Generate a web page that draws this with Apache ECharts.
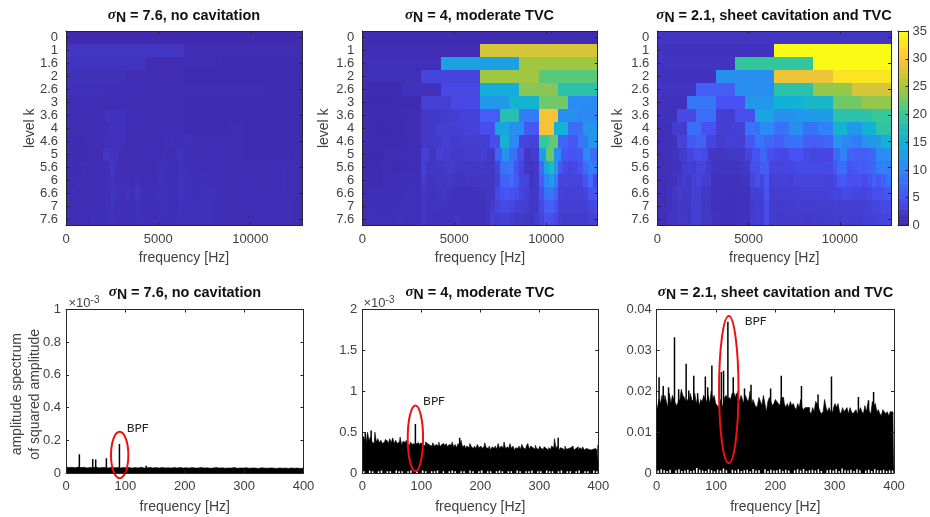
<!DOCTYPE html>
<html><head><meta charset="utf-8">
<style>html,body{margin:0;padding:0;background:#fff}#c{width:930px;height:517px}</style>
<script src="https://cdn.jsdelivr.net/npm/echarts@6/dist/echarts.min.js"></script>
</head><body><div id="c"></div>
<script>
const levelLabels = ['0','1','1.6','2','2.6','3','3.6','4','4.6','5','5.6','6','6.6','7','7.6'];
const freqMax = 12800;
const parula = ['#3E26A8','#4852F4','#2D87F7','#12B1D6','#37C897','#ABC739','#FEC338','#F9FB14'];

const kurt1 = [
[.5],
[1.8,.8],
[1.6,.8,.6],
[1.2,.8,.7,.7],
[1.1,.9,.8,.8,.8,.7],
[.9,.8,.8,.8,.7,.7,.7,.7],
[.8,.8,1.4,.9,.8,.8,.7,.7,.7,.7,.7,.7],
[.8,.8,.9,1.3,.8,.8,.8,.8,.7,.7,.7,.8,.7,.7,.7,.7],
[.7,.7,.8,.8,1.2,1.3,.8,.8,.8,.8,1.1,.8,1.1,.8,.8,.8,.8,.8,.7,.7,.7,.7,.7,.7],
[.7,.7,.7,.8,.8,1.9,1.5,.9,.8,.8,.8,.9,.8,1.1,.8,1.4,.9,.8,.8,.8,.9,.8,.8,.8,.7,.7,.7,.7,.7,.7,.7,.9],
[.7,.7,.8,1,.8,.8,.8,.8,1,1.8,1,.8,.8,.8,.8,.8,.8,.8,1,1.3,1,.9,1,1.3,1,.9,.9,.9,.8,.9,.9,.8,.8,.8,.8,.8,.9,.8,.8,.8,.8,.8,.8,.8,.9,.9,.8,.8],
[.7,.8,.9,.9,.8,.8,.8,.8,1,1.6,1,.9,.8,.8,1.2,.8,.8,.8,.9,1.3,1,.9,1,1.5,1.1,1,.9,1,.9,.9,1,.8,.8,.8,.8,.9,.8,.8,.9,.8,.8,.8,.8,.8,1,.9,.8,.8],
[.8,.9,.8,.8,.8,.8,.8,.9,1,1.6,1.3,1.1,1.3,.9,1.8,1,.9,.9,1,1.2,1,.9,1.1,1.5,1.1,1.1,.9,1,1,1,1,.9,.8,.8,.9,.9,.9,.8,.8,.9,.8,.8,.8,.9,1,.9,.8,.8],
[.8,.8,.9,.8,.8,.8,1,.9,1,1.3,1.1,.9,1.1,.9,1.3,.9,.9,.9,1,1.1,1,.9,1,1.3,1.1,1,1,1,1,1,.9,.9,.8,.8,.9,.8,.9,.8,.9,.9,.8,.8,.8,.9,.9,1,.8,.8],
[.8,.8,.8,.8,.8,1.1,1,.9,1,1.2,1,.9,1.1,.9,1.2,1,.9,.9,.9,1,.9,.9,1,1.2,1,1,1,1,1,1,.9,.9,.8,.8,.9,.8,.8,.8,.9,.9,.8,.8,.8,.9,.9,1,.8,.8]
];
const kurt2 = [
[.7],
[.8,27.5],
[1,13,24.5],
[1,3.5,24.5,21.5],
[.7,1.3,4,14.5,23.5,18.5],
[.6,.7,3,4,12,15.5,22.5,10.5],
[.7,.7,.8,2.2,2.6,3.2,6,18,9,29.5,11,10],
[.7,.6,.7,.8,2.2,2.8,3,3.3,4.5,13.5,11,5.5,29.5,15,7.5,11.5],
[.7,.7,.7,.7,.8,.8,2.2,2.3,3,2.4,2.6,2.6,2.6,4.5,15.5,10,3.5,3.2,20,22,7,5.5,8.5,12],
[.6,.6,.6,.8,.8,.8,.9,.9,3,1.7,3,2.5,2.3,2.3,2.5,2.5,2.8,2.2,6.5,11.5,8,4.5,1.8,2.5,13,22,11,5.5,5,5.5,10.5,7.5],
[.6,.6,.7,.7,.8,.8,.7,.7,.8,.9,.8,.9,3,1.8,1.8,2,2.2,2.5,2.5,2,2,2,2.2,2.2,2.4,2.2,2,3.5,8,8.5,8.5,5,3.5,1.8,1.5,2.2,7.5,14,17,12,5.5,4,3.5,4,5,7.5,9,8.5],
[.7,.7,.8,.7,.8,.8,.9,.8,.9,1,.9,.9,2.5,1.6,1.6,1.8,2,2.2,1.8,1.6,1.6,1.8,1.8,1.8,2,1.8,1.8,3,6.5,6.5,7.5,5.5,3.5,3.5,1.6,2,6,10,13,9,3.5,3.5,3.3,3.5,3.5,5,7.5,4],
[.7,.9,1,.9,.9,.8,1,.9,1,1,1,1,2,1.6,1.4,1.6,2,1.6,1.4,1.4,1.2,1.4,1.4,1.4,1.6,1.8,2,4,5,5.5,5,4.5,3.5,3,2,2.2,4.5,8,8.5,6.5,3.2,3,3,3,3,3.5,5,5.5],
[.8,1,.9,.9,1,.9,.9,1,1.1,1,1,1,1.8,1.5,1.5,1.6,1.6,1.5,1.4,1.4,1.4,1.5,1.5,1.4,1.2,1.5,2.5,3.5,4,4,3.8,3,3,2.8,2,2.2,4,6,6.5,5,3,2.8,2.8,3,2.8,3,3.5,4],
[.8,1.2,1.1,1,1,1.1,1,1.2,1.1,1,1,1.2,1.8,1.5,1.5,1.4,1.5,1.4,1.5,1.8,1.4,1.4,1.5,1.4,1.2,1.5,3,2.5,3,3,2.6,2.2,2.4,2,1.6,2.5,3.5,5,4.5,4,2.6,2.4,2.4,2.5,2.4,2.4,3,3.2]
];
const kurt3 = [
[1.8],
[1.5,35],
[1.6,19.5,35],
[1.5,11,29,33],
[1.6,6,11,18.5,24,27.5],
[1.3,8.5,5,12,15,16,22.5,24],
[1.2,4,7.5,2.8,4.5,13.5,11,12,12.5,18.5,18.5,20],
[1,2.5,7.5,5,2.8,3,8,10.5,8,11,8,9.5,15.5,12,15,19],
[1,1.2,3.2,5.5,6.5,3.5,2.5,3,2.8,5.5,8.5,7,6,7.5,8,6,6,7,11.5,10,9,11.5,12.5,15.5],
[1,1,1.5,2.5,3.5,4.5,4,2,1.8,2,2,2.2,3.5,5,7,4.5,4,3.8,5,5,4,3.5,3.8,3.6,7,9.5,6.5,6,6,7,10.5,11],
[1,1,1,1.5,1.5,2.5,3,2.5,3.5,3.5,2.5,1.6,1.6,1.6,1.6,1.6,1.6,1.8,2.2,4.5,4.5,6,6,3.5,3.5,3.5,3.8,3.8,4,4.2,4.2,4.2,4.2,4.2,4.2,4,5.5,7.5,7.5,5,5.5,6,6,6.5,7,9,9.5,9],
[1,.9,1.2,1.5,2.2,2.5,2,3,3.5,2.6,2.6,1.5,1.4,1.3,1.3,1.3,1.4,1.6,1.6,3.5,4.5,3.5,5.5,3,3,3,3.2,3,3.4,3.4,3.4,3.4,3.5,3.5,3.3,3.2,3.8,5.5,5.5,4.5,4.5,4.8,4,5,6.5,5.5,6.5,8],
[1,.9,1.4,1.8,2.4,2.2,2,3,3,2.2,2.2,1.4,1.3,1.3,1.2,1.2,1.2,1.4,1.4,2.8,3,3,5,2.6,2.6,2.6,2.8,2.8,3,3,3,3,3,3,3,3.2,3.4,3.4,4,4,3.6,3.6,3.4,3.8,4.5,4.5,4.8,5.5],
[1,1,1.4,1.6,2.2,2,1.8,2.8,2.8,2,2,1.4,1.2,1.2,1.2,1.2,1.2,1.4,1.4,2.4,2.8,2.6,4.5,2.4,2.4,2.4,2.5,2.5,2.6,2.6,2.5,2.5,2.6,2.6,2.6,2.6,2.8,2.6,3,2.8,2.6,2.8,3,3.2,3.4,3.6,4,4],
[1,.9,1.6,1.6,2,2,1.6,2.8,2.8,2,2,1.5,1.3,1.2,1.2,1.2,1.3,1.4,1.4,2.5,2.8,2.6,4.5,2.4,2.3,2.3,2.4,2.4,2.4,2.4,2.3,2.3,2.4,2.4,2.5,2.5,2.6,2.5,2.8,2.6,2.5,2.5,2.8,3,3,3.2,3.6,3.6]
];

/* spectrum upper envelopes, in units of the axis (1e-3) */
const env1 = [.036,.034,.035,.032,.036,.033,.035,.031,.034,.032,.036,.031,.034,.033,.03,.035,.032,.034,.03,.033,
.032,.034,.03,.033,.031,.035,.03,.032,.034,.031,.033,.03,.034,.031,.032,.03,.033,.031,.034,.03,
.032,.03,.033,.03,.031,.034,.03,.032,.029,.031,.033,.03,.032,.029,.031,.03,.033,.029,.031,.03,
.032,.029,.031,.03,.028,.032,.03,.029,.031,.03,.028,.031,.029,.03,.028,.031,.029,.03,.028,.03];
const env2 = [.38,.45,.42,.36,.5,.4,.44,.38,.36,.5,.38,.42,.37,.4,.36,.38,.41,.39,.36,.42,
.37,.43,.36,.4,.36,.38,.44,.34,.39,.37,.4,.36,.34,.38,.35,.36,.33,.36,.37,.34,
.37,.35,.33,.38,.36,.34,.36,.33,.37,.33,.35,.33,.38,.32,.35,.36,.33,.36,.32,.35,
.34,.38,.32,.35,.31,.36,.33,.4,.32,.34,.3,.33,.31,.36,.32,.3,.33,.3,.35,.31,
.33,.3,.32,.37,.31,.3,.33,.28,.32,.3,.33,.29,.36,.3,.33,.31,.38,.3,.32,.29,
.36,.3,.33,.28,.31,.3,.33,.29,.35,.31,.29,.33,.36,.29,.33,.31,.29,.34,.3,.29,
.33,.3,.29,.32,.3,.28,.31,.29,.33,.31,.42,.3,.33,.28,.31,.3,.28,.33,.29,.3,
.31,.29,.33,.28,.3,.32,.28,.31,.29,.32,.28,.3,.29,.31,.28,.29,.27,.3,.28,.34];
const env3 = [15.5,16,18,17,19,17,19,17.5,16,19.5,17,19,18,17,16.5,17.5,18,20.5,19,18.5,
17.5,18,17,19.5,18,17.5,19.5,17,18.5,16.5,18,17.5,19,18,17.5,19,17,20,18,19,
17,16.5,16,18,17,16,18.5,19,18,18.5,18,19.5,19.5,18.5,19.5,19,17.5,19,18,17,
19,18,17.5,20,16.5,18,17,16,16.5,18.5,17.5,16.5,19,17,15,17.5,18.5,17.5,16.5,17,
18,17.5,17,16.5,18.5,18.5,17,16,17,16,17.5,16.5,17,16,15.5,17,16,18,16,15.5,
16,16,16,15,14.5,16,15,17.5,17,16,15,14.5,15,18,16,15,16,15,15,16,
17,16,17,15,14.5,16,15,15.5,16,14.5,16,15,14.5,15,15.5,14.5,15,16,15,14.5,
16.5,15,17,15,14.5,17.5,16.5,17,15,15.5,14.5,14,15.5,15,14.5,15,14,15,15,14.5];
/* isolated spectral lines: [frequency, amplitude] */
const peaks1 = [[22.5,.115],[45,.085],[50,.082],[68,.09],[90,.178],[135,.045]];
const peaks2 = [[5,.5],[15,.52],[90,.6],[165,.43],[332,.43]];
const peaks3 = [[4,23.4],[11,21.3],[20,21],[30,33.2],[37,20.5],[49.6,26.7],[54,20.2],[62.5,23.8],[69,19.5],[82,23.6],[86,21],[93,26.3],[109,24.7],[112.7,25],[120,37],[129,23.4],[137,20],[148,20.7],[159,21.6],[192,20.7],[210,23.8],[244,21.3],[272,19.2],[294.6,23.6],[340,18.6],[357,17.8],[365.6,19.8]];
/* small white gaps along the foot of the dense trace */
const floor2 = [.02,0,.03,.02,0,.02,.03,0,.02,.02,0,.03,.02,.02,0,.02,.03,0,.02,0,.03,.02,0,.02,.02,.03,0,.02,0,.02,.03,.02,0,.02,.02,0,.03,.02,0,.02,.03,0,.02,.02,0,.02,.03,.02,0,.02,.02,0,.03,.02,0,.02,.02,.03,0,.02,.02,0,.03,.02,.02,0,.02,.03,0,.02,.02,0,.02,.03,0,.02,.02,0,.03,.02];
const floor3 = [.6,.9,.7,.5,.8,0,.7,.9,.5,.6,.8,.5,.7,1.2,.8,.6,.5,.9,.7,.4,.8,.6,1.1,.7,0,.8,.6,.9,.5,.7,.8,.4,1,.6,.7,0,.9,.5,.8,.6,.7,.9,.5,.8,.6,0,.7,.9,.6,1,.5,.7,.8,.6,.9,.5,0,.7,.8,.6,.9,.5,1.1,.7,.6,.8,.5,.9,.7,0,.6,.8,.5,.9,.7,.6,.8,.5,.7,.6];

const titlesText = [' = 7.6, no cavitation',' = 4, moderate TVC',' = 2.1, sheet cavitation and TVC'];
const topTitleX = [184,479.5,774];
const botTitleX = [185,480,775.5];
const topGrid = [[66,236],[362.3,235.4],[657.3,233.7]];
const botGrid = [[66,237.5],[362.3,236],[656.7,237.3]];
const botMax = [1,2,40], botStep = [.2,.5,10];
/* marker ellipses: [centre frequency, centre amplitude, half-width Hz, half-height] */
const rings = [[90.4,.11,14.6,.142],[90,.424,13,.403],[121.5,20.4,16.4,18]];
const bpfPos = [[137.7,427.7],[434,400.7],[755.7,320.7]];

const INK = '#262626';
const font = '"Liberation Sans",Arial,sans-serif';
const grids=[], xAxes=[], yAxes=[], series=[], titles=[];
let hmSeries=[];

function addAxes(gi, xOpt, yOpt){
  const baseLine={show:true,onZero:false,lineStyle:{color:INK,width:1}};
  const tick={show:true,inside:true,length:3,lineStyle:{color:INK,width:1}};
  const lab={color:'#404040',fontFamily:font,fontSize:13};
  xAxes.push(Object.assign({gridIndex:gi,position:'bottom',z:10,nameMoveOverlap:false,axisLine:baseLine,axisTick:tick,splitLine:{show:false},
    axisLabel:Object.assign({},lab,{margin:7,formatter:v=>String(v)},xOpt.label||{}),nameTextStyle:{color:'#404040',fontFamily:font,fontSize:14}},xOpt.ax));
  xAxes.push(Object.assign({gridIndex:gi,position:'top',z:10,axisLine:baseLine,axisTick:tick,splitLine:{show:false}},xOpt.ax,{name:'',axisLabel:{show:false}}));
  yAxes.push(Object.assign({gridIndex:gi,position:yOpt.pos||'left',z:10,nameMoveOverlap:false,axisLine:baseLine,axisTick:tick,splitLine:{show:false},
    axisLabel:Object.assign({},lab,{margin:yOpt.margin||5}),nameTextStyle:Object.assign({color:'#404040',fontFamily:font,fontSize:14,lineHeight:18},yOpt.nameStyle||{})},yOpt.ax));
  const opp=Object.assign({gridIndex:gi,position:yOpt.pos==='right'?'left':'right',z:10,axisLine:baseLine,axisTick:tick,splitLine:{show:false}},yOpt.ax,{name:'',axisLabel:{show:false}});
  if(yOpt.noOpp) opp.axisTick={show:false};
  yAxes.push(opp);
}

function heatSeries(rows, xi, yi){
  const data=[];
  rows.forEach((r,ri)=>{const w=freqMax/r.length; r.forEach((v,c)=>data.push([c*w,(c+1)*w,ri,v]));});
  return {type:'custom',xAxisIndex:xi,yAxisIndex:yi,data,clip:true,z:2,silent:true,encode:{x:[0,1],y:2},
    renderItem(p,api){
      const a=api.coord([api.value(0),api.value(2)]), b=api.coord([api.value(1),api.value(2)]);
      const h=api.size([0,1])[1];
      const x0=Math.round(a[0]),x1=Math.round(b[0]),y0=Math.round(a[1]-h/2),y1=Math.round(a[1]+h/2);
      return {type:'rect',shape:{x:x0,y:y0,width:x1-x0,height:y1-y0},style:{fill:api.visual('color')}};
    }};
}
function stems(data, width, color, xi, yi, z){
  return {type:'custom',xAxisIndex:xi,yAxisIndex:yi,data,clip:true,z:z||2,silent:true,
    renderItem(p,api){
      const t=api.coord([api.value(0),api.value(1)]), o=api.coord([api.value(0),0]);
      return {type:'rect',shape:{x:t[0]-width/2,y:t[1],width:width,height:o[1]-t[1]},style:{fill:color}};
    }};
}
const titleRich={
  s:{fontFamily:'"Liberation Serif",serif',fontStyle:'italic',fontSize:15,color:'#111'},
  n:{fontFamily:font,fontWeight:'bold',fontSize:14,color:'#111',verticalAlign:'bottom',padding:[6,0,0,0]},
  t:{fontFamily:font,fontWeight:'bold',fontSize:14.5,color:'#111'}
};
function addTitle(x,y,text,rich,style){
  titles.push({text,left:x,top:y,textAlign:'center',textVerticalAlign:'middle',padding:0,
    textStyle:Object.assign({rich:rich||{}},style||{})});
}

[kurt1,kurt2,kurt3].forEach((rows,i)=>{
  grids.push({left:topGrid[i][0],width:topGrid[i][1],top:31,height:194.5});
  const xi=xAxes.length, yi=yAxes.length;
  addAxes(grids.length-1,
    {ax:{type:'value',min:0,max:freqMax,interval:5000,name:'frequency [Hz]',nameLocation:'middle',nameGap:26},label:{showMaxLabel:false}},
    {margin:8,ax:{type:'category',data:levelLabels,inverse:true,boundaryGap:true,axisTick:{show:true,inside:true,length:3,alignWithLabel:true,lineStyle:{color:INK}},
      axisLabel:{color:'#404040',fontFamily:font,fontSize:13,margin:8,interval:0},name:'level k',nameLocation:'middle',nameGap:[27,29,30][i],nameRotate:90}});
  hmSeries.push(series.length);
  series.push(heatSeries(rows,xi,yi));
  addTitle(topTitleX[i],15.5,`{s|σ}{n|N}{t|${titlesText[i]}}`,titleRich);
});

/* colour bar */
grids.push({left:898,width:14,top:31,height:194.5});
{
  const xi=xAxes.length, yi=yAxes.length;
  addAxes(grids.length-1,
    {ax:{type:'value',min:0,max:1,axisLabel:{show:false},axisTick:{show:false}}},
    {pos:'right',margin:4,noOpp:true,ax:{type:'value',min:0,max:35,interval:5,axisLabel:{color:'#404040',fontFamily:font,fontSize:13,margin:4}}});
  const bar=[]; for(let v=0;v<35;v+=.5) bar.push([v,v+.5,0,v+.25]);
  hmSeries.push(series.length);
  series.push({type:'custom',xAxisIndex:xi,yAxisIndex:yi,data:bar,clip:true,z:2,silent:true,
    renderItem(p,api){
      const a=api.coord([0,api.value(0)]), b=api.coord([1,api.value(1)]);
      return {type:'rect',shape:{x:a[0],y:b[1]-.5,width:b[0]-a[0],height:a[1]-b[1]+.5},style:{fill:api.visual('color')}};
    }});
}

[[env1,peaks1,null],[env2,peaks2,floor2],[env3,peaks3,floor3]].forEach((d,i)=>{
  grids.push({left:botGrid[i][0],width:botGrid[i][1],top:309.5,height:163.5});
  const xi=xAxes.length, yi=yAxes.length;
  const ax={type:'value',min:0,max:botMax[i],interval:botStep[i]};
  if(i===2) ax.axisLabel={color:'#404040',fontFamily:font,fontSize:13,margin:5,formatter:v=>String(v/1000)};
  if(i===0) Object.assign(ax,{name:'amplitude spectrum\nof squared amplitude',nameLocation:'middle',nameGap:22,nameRotate:90});
  addAxes(grids.length-1,
    {ax:{type:'value',min:0,max:400,interval:100,name:'frequency [Hz]',nameLocation:'middle',nameGap:27}},
    {margin:5,ax,nameStyle:{padding:[0,6,0,0]}});
  const n=d[0].length;
  series.push({type:'line',xAxisIndex:xi,yAxisIndex:yi,data:d[0].map((v,k)=>[k*400/(n-1),v]),step:'middle',symbol:'none',silent:true,z:2,
    lineStyle:{color:'#000',width:.6},itemStyle:{color:'#000'},areaStyle:{color:'#000',opacity:1,origin:'start'}});
  series.push(stems(d[1],1.5,'#000',xi,yi,3));
  if(d[2]) series.push(stems(d[2].map((v,k)=>[(k+.5)*5,v]),1.5,'#fff',xi,yi,4));
  series.push({type:'custom',xAxisIndex:xi,yAxisIndex:yi,data:[rings[i]],clip:false,z:6,silent:true,
    renderItem(p,api){
      const c=api.coord([api.value(0),api.value(1)]), e=api.coord([api.value(0)+api.value(2),api.value(1)+api.value(3)]);
      return {type:'ellipse',shape:{cx:c[0],cy:c[1],rx:e[0]-c[0],ry:c[1]-e[1]},style:{fill:'none',stroke:'#ee1111',lineWidth:2}};
    }});
  addTitle(botTitleX[i],292.5,`{s|σ}{n|N}{t|${titlesText[i]}}`,titleRich);
  addTitle(bpfPos[i][0],bpfPos[i][1],'BPF',null,{fontFamily:'Lato,"Open Sans",sans-serif',fontSize:12,fontWeight:'normal',color:'#222'});
});
const expRich={a:{fontFamily:font,fontSize:13,fontWeight:'normal',color:'#404040'},b:{fontFamily:font,fontSize:10,fontWeight:'normal',color:'#404040',verticalAlign:'top',padding:[0,0,6,0]}};
addTitle(84,303,'{a|×10}{b|-3}',expRich,{fontWeight:'normal'});
addTitle(379,303,'{a|×10}{b|-3}',expRich,{fontWeight:'normal'});

const chart=echarts.init(document.getElementById('c'),null,{renderer:'canvas'});
chart.setOption({
  animation:false,backgroundColor:'#fff',
  title:titles,grid:grids,xAxis:xAxes,yAxis:yAxes,series,
  visualMap:{show:false,type:'continuous',min:0,max:35,dimension:3,seriesIndex:hmSeries,inRange:{color:parula}}
});
</script></body></html>
